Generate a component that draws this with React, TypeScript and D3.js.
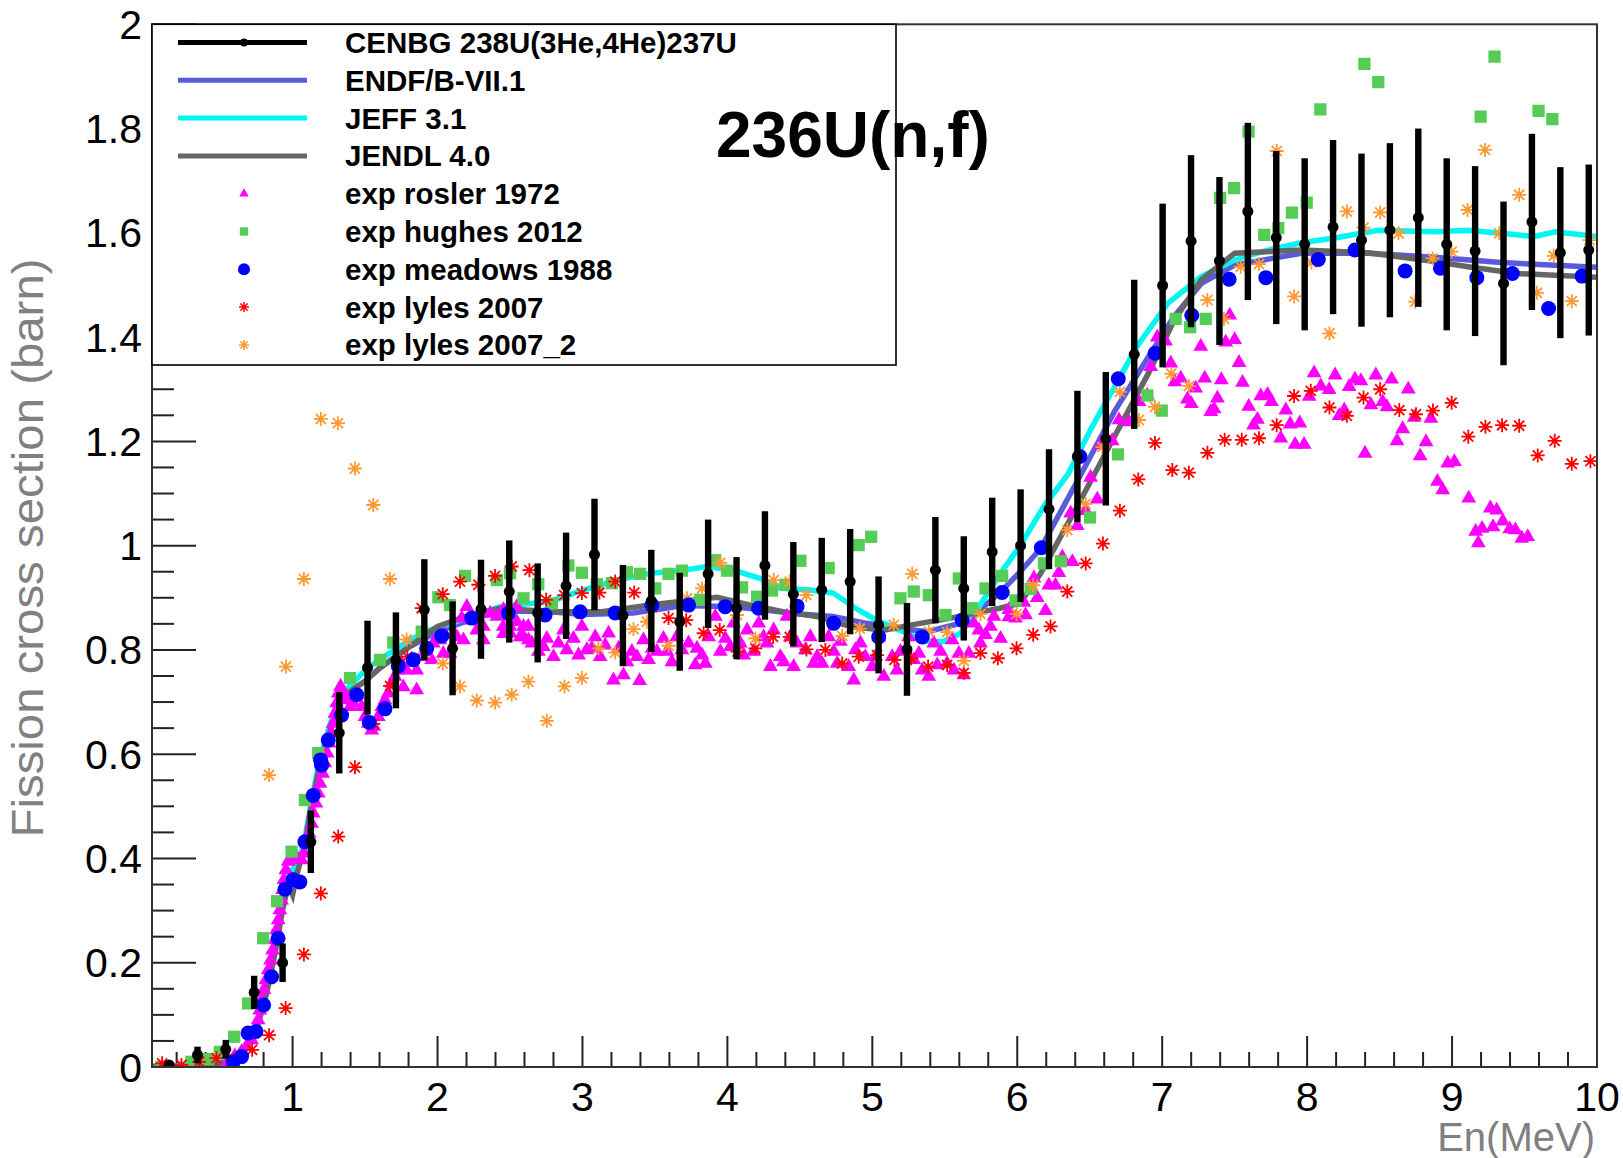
import React from 'react';
import * as d3 from 'd3';

// tick labels
const xTickValues = [1, 2, 3, 4, 5, 6, 7, 8, 9, 10];
const yTickValues = [0, 0.2, 0.4, 0.6, 0.8, 1, 1.2, 1.4, 1.6, 1.8, 2];
const yTickLabels = ['0', '0.2', '0.4', '0.6', '0.8', '1', '1.2', '1.4', '1.6', '1.8', '2'];

// CENBG 238U(3He,4He)237U surrogate data
const cenbgE = [0.148, 0.344, 0.539, 0.735, 0.931, 1.126, 1.322, 1.517, 1.713, 1.909, 2.104, 2.3, 2.495, 2.691, 2.887, 3.083, 3.279, 3.475, 3.671, 3.867, 4.063, 4.259, 4.455, 4.651, 4.847, 5.043, 5.239, 5.435, 5.631, 5.827, 6.023, 6.219, 6.415, 6.611, 6.807, 7.003, 7.199, 7.395, 7.591, 7.787, 7.983, 8.179, 8.375, 8.571, 8.767, 8.963, 9.159, 9.355, 9.551, 9.747, 9.943];
const cenbgSigma = [0.004, 0.023, 0.034, 0.143, 0.2, 0.432, 0.641, 0.766, 0.78, 0.877, 0.803, 0.878, 0.912, 0.871, 0.923, 0.983, 0.866, 0.894, 0.854, 0.946, 0.88, 0.962, 0.907, 0.915, 0.931, 0.848, 0.801, 0.953, 0.918, 0.988, 1.0, 1.07, 1.171, 1.205, 1.367, 1.499, 1.584, 1.546, 1.641, 1.591, 1.578, 1.611, 1.586, 1.605, 1.629, 1.578, 1.565, 1.503, 1.621, 1.562, 1.567];
const cenbgErr = [0.005, 0.016, 0.018, 0.032, 0.037, 0.06, 0.078, 0.09, 0.092, 0.097, 0.09, 0.095, 0.098, 0.095, 0.102, 0.107, 0.097, 0.098, 0.094, 0.104, 0.098, 0.104, 0.1, 0.1, 0.101, 0.093, 0.089, 0.102, 0.1, 0.104, 0.108, 0.115, 0.126, 0.128, 0.143, 0.157, 0.165, 0.161, 0.17, 0.166, 0.165, 0.167, 0.166, 0.167, 0.171, 0.165, 0.163, 0.157, 0.169, 0.164, 0.164];

// evaluations [E, sigma]
const endf = [[0.03, 0.001], [0.3, 0.002], [0.45, 0.005], [0.55, 0.012], [0.62, 0.025], [0.7, 0.05], [0.76, 0.085], [0.82, 0.15], [0.88, 0.23], [0.93, 0.31], [0.97, 0.36], [1.0, 0.37], [1.04, 0.39], [1.08, 0.42], [1.13, 0.5], [1.18, 0.57], [1.24, 0.63], [1.3, 0.68], [1.35, 0.71], [1.42, 0.725], [1.5, 0.74], [1.6, 0.765], [1.8, 0.805], [2.0, 0.835], [2.2, 0.855], [2.43, 0.875], [2.78, 0.873], [3.0, 0.868], [3.35, 0.871], [3.7, 0.885], [4.04, 0.883], [4.5, 0.869], [4.73, 0.864], [4.96, 0.851], [5.19, 0.841], [5.38, 0.835], [5.65, 0.854], [5.88, 0.91], [6.02, 0.95], [6.16, 0.994], [6.44, 1.137], [6.67, 1.257], [6.9, 1.36], [7.08, 1.439], [7.27, 1.503], [7.5, 1.538], [7.96, 1.561], [8.42, 1.561], [8.88, 1.553], [9.34, 1.543], [10, 1.534]];
const jeff = [[0.03, 0.001], [0.3, 0.002], [0.45, 0.005], [0.55, 0.012], [0.62, 0.025], [0.7, 0.05], [0.76, 0.088], [0.82, 0.155], [0.88, 0.235], [0.93, 0.315], [0.97, 0.365], [1.0, 0.38], [1.04, 0.395], [1.08, 0.43], [1.13, 0.51], [1.18, 0.58], [1.24, 0.64], [1.3, 0.695], [1.4, 0.733], [1.53, 0.768], [1.6, 0.781], [1.81, 0.819], [1.95, 0.838], [2.09, 0.851], [2.25, 0.865], [2.43, 0.883], [2.78, 0.893], [3.01, 0.915], [3.24, 0.934], [3.47, 0.947], [3.7, 0.953], [3.86, 0.96], [4.04, 0.953], [4.23, 0.937], [4.37, 0.918], [4.57, 0.915], [4.73, 0.909], [4.9, 0.877], [5.03, 0.857], [5.19, 0.838], [5.36, 0.816], [5.49, 0.816], [5.61, 0.832], [5.75, 0.889], [5.88, 0.945], [6.02, 1.0], [6.18, 1.074], [6.35, 1.137], [6.51, 1.225], [6.67, 1.304], [6.83, 1.384], [7.04, 1.465], [7.27, 1.516], [7.5, 1.548], [7.73, 1.567], [7.96, 1.581], [8.19, 1.59], [8.49, 1.605], [8.88, 1.602], [9.11, 1.605], [9.34, 1.599], [9.57, 1.593], [9.71, 1.602], [10, 1.593]];
const jendl = [[0.03, 0.001], [0.3, 0.002], [0.45, 0.004], [0.55, 0.01], [0.62, 0.022], [0.7, 0.046], [0.76, 0.08], [0.82, 0.14], [0.88, 0.22], [0.93, 0.3], [0.97, 0.35], [1.0, 0.33], [1.03, 0.37], [1.08, 0.42], [1.13, 0.5], [1.18, 0.57], [1.24, 0.63], [1.3, 0.68], [1.35, 0.71], [1.42, 0.725], [1.5, 0.74], [1.6, 0.765], [1.8, 0.805], [2.0, 0.845], [2.2, 0.865], [2.43, 0.88], [2.78, 0.873], [3.12, 0.873], [3.47, 0.886], [3.7, 0.894], [3.93, 0.901], [4.16, 0.886], [4.39, 0.873], [4.62, 0.864], [4.85, 0.845], [5.08, 0.838], [5.31, 0.85], [5.54, 0.861], [5.7, 0.87], [5.88, 0.88], [6.02, 0.89], [6.16, 0.946], [6.44, 1.089], [6.67, 1.209], [6.9, 1.328], [7.08, 1.431], [7.27, 1.51], [7.5, 1.561], [7.96, 1.567], [8.42, 1.562], [8.88, 1.545], [9.11, 1.535], [9.45, 1.522], [10, 1.515]];

// experimental sets [E, sigma]
const rosler = [[0.555, 0.01], [0.601, 0.021], [0.648, 0.029], [0.682, 0.039], [0.717, 0.052], [0.747, 0.071], [0.762, 0.09], [0.774, 0.109], [0.786, 0.129], [0.802, 0.148], [0.816, 0.167], [0.832, 0.186], [0.848, 0.205], [0.862, 0.224], [0.878, 0.244], [0.889, 0.263], [0.901, 0.282], [0.912, 0.301], [0.924, 0.32], [0.931, 0.34], [0.94, 0.359], [0.954, 0.378], [0.97, 0.394], [0.993, 0.4], [1.028, 0.403], [1.062, 0.397], [1.078, 0.41], [1.097, 0.429], [1.115, 0.448], [1.131, 0.467], [1.142, 0.487], [1.161, 0.506], [1.177, 0.525], [1.189, 0.544], [1.207, 0.563], [1.223, 0.583], [1.239, 0.602], [1.253, 0.621], [1.269, 0.64], [1.28, 0.659], [1.292, 0.678], [1.304, 0.698], [1.315, 0.717], [1.331, 0.73], [1.35, 0.72], [1.373, 0.704], [1.396, 0.691], [1.419, 0.698], [1.442, 0.714], [1.477, 0.691], [1.5, 0.672], [1.522, 0.659], [1.546, 0.646], [1.561, 0.653], [1.591, 0.672], [1.615, 0.691], [1.637, 0.704], [1.66, 0.717], [1.684, 0.736], [1.706, 0.749], [1.729, 0.761], [1.753, 0.774], [1.764, 0.729], [1.787, 0.761], [1.822, 0.781], [1.856, 0.761], [1.856, 0.723], [1.891, 0.787], [1.925, 0.806], [1.959, 0.781], [1.971, 0.813], [2.017, 0.819], [2.04, 0.793], [2.052, 0.829], [2.086, 0.793], [2.133, 0.825], [2.167, 0.861], [2.179, 0.819], [2.202, 0.883], [2.236, 0.857], [2.271, 0.838], [2.316, 0.845], [2.316, 0.819], [2.363, 0.87], [2.409, 0.864], [2.455, 0.877], [2.455, 0.831], [2.5, 0.845], [2.547, 0.883], [2.57, 0.825], [2.593, 0.845], [2.627, 0.819],
  [2.454, 0.845], [2.547, 0.854], [2.593, 0.825], [2.651, 0.813], [2.696, 0.797], [2.754, 0.822], [2.8, 0.787], [2.834, 0.813], [2.892, 0.8], [2.938, 0.822], [2.996, 0.845], [3.03, 0.8], [3.088, 0.825], [3.122, 0.787], [3.18, 0.832], [3.214, 0.742], [3.249, 0.803], [3.283, 0.752], [3.341, 0.797], [3.394, 0.741], [3.421, 0.819], [3.456, 0.781], [3.514, 0.797], [3.559, 0.822], [3.617, 0.777], [3.686, 0.8], [3.732, 0.813], [3.778, 0.771], [3.825, 0.79], [3.87, 0.825], [3.917, 0.864], [3.951, 0.797], [3.986, 0.822], [4.043, 0.851], [4.089, 0.813], [4.136, 0.838], [4.181, 0.797], [4.216, 0.851], [4.273, 0.813], [4.319, 0.838], [4.365, 0.787], [4.388, 0.777], [4.411, 0.864], [4.457, 0.768], [4.48, 0.813], [4.538, 0.8], [4.572, 0.825], [4.619, 0.787], [4.654, 0.774], [4.699, 0.825], [4.734, 0.797], [4.78, 0.816], [4.837, 0.768], [4.872, 0.742], [4.918, 0.813], [4.952, 0.787], [4.999, 0.768], [5.044, 0.825], [5.079, 0.749], [5.137, 0.787], [5.194, 0.797], [5.251, 0.825], [5.286, 0.781], [5.344, 0.761], [5.389, 0.749], [5.424, 0.813], [5.471, 0.797], [5.516, 0.774], [5.551, 0.819], [5.597, 0.793], [5.631, 0.752], [5.666, 0.793], [5.7, 0.851], [5.735, 0.838], [5.781, 0.829], [5.839, 0.864], [5.885, 0.822], [5.942, 0.877], [5.988, 0.861],
  [2.501, 0.832], [2.626, 0.845], [2.731, 0.806], [2.869, 0.838], [2.973, 0.79], [3.065, 0.803], [3.157, 0.809], [3.307, 0.777], [3.376, 0.787], [3.48, 0.803], [3.583, 0.797], [3.651, 0.825], [3.79, 0.803], [3.848, 0.774], [4.02, 0.806], [4.112, 0.79], [4.25, 0.825], [4.297, 0.768], [4.434, 0.825], [4.595, 0.774], [4.757, 0.774], [4.883, 0.8], [5.021, 0.787], [5.17, 0.761], [5.321, 0.793], [5.448, 0.771], [5.563, 0.761], [5.746, 0.813], [5.815, 0.845],
  [5.942, 0.863], [6.046, 0.891], [6.057, 0.867], [6.115, 0.938], [6.138, 0.9], [6.195, 0.875], [6.218, 0.924], [6.264, 0.924], [6.287, 0.948], [6.311, 0.978], [6.38, 0.969], [6.368, 1.062], [6.414, 1.038], [6.471, 1.067], [6.506, 1.131], [6.552, 1.089], [6.575, 1.193], [6.655, 1.201], [6.702, 1.241], [6.771, 1.237], [6.84, 1.276], [6.897, 1.288], [6.921, 1.343], [6.966, 1.4], [7.023, 1.392], [7.059, 1.35], [7.087, 1.314], [7.128, 1.321], [7.174, 1.281], [7.201, 1.272], [7.231, 1.302], [7.266, 1.382], [7.293, 1.321], [7.335, 1.257], [7.358, 1.262], [7.381, 1.283], [7.408, 1.318], [7.438, 1.39], [7.466, 1.442], [7.5, 1.395], [7.53, 1.351], [7.554, 1.313], [7.597, 1.267], [7.63, 1.231], [7.657, 1.242], [7.68, 1.287], [7.727, 1.29], [7.754, 1.276], [7.818, 1.206], [7.853, 1.26], [7.883, 1.233], [7.917, 1.194], [7.949, 1.235], [7.979, 1.194], [8.014, 1.286], [8.048, 1.331], [8.094, 1.306], [8.152, 1.299], [8.193, 1.327], [8.221, 1.249], [8.256, 1.26], [8.29, 1.305], [8.33, 1.319], [8.371, 1.316], [8.399, 1.177], [8.44, 1.27], [8.474, 1.327], [8.521, 1.276], [8.551, 1.266], [8.583, 1.319], [8.62, 1.201], [8.659, 1.224], [8.698, 1.3], [8.739, 1.246], [8.78, 1.172], [8.82, 1.199], [8.854, 1.244], [8.899, 1.123], [8.935, 1.107], [8.97, 1.158], [9.016, 1.161], [9.115, 1.091], [9.163, 1.027], [9.181, 1.005], [9.207, 1.033], [9.264, 1.072], [9.283, 1.036], [9.308, 1.068], [9.35, 1.047], [9.398, 1.032], [9.437, 1.03], [9.481, 1.014], [9.522, 1.017]];
const hughes = [[0.095, 0.0], [0.302, 0.01], [0.417, 0.015], [0.498, 0.029], [0.597, 0.058], [0.693, 0.122], [0.797, 0.247], [0.893, 0.318], [0.993, 0.413], [1.085, 0.512], [1.177, 0.602], [1.396, 0.746], [1.603, 0.781], [1.695, 0.814], [1.891, 0.835], [2.006, 0.901], [2.086, 0.886], [2.19, 0.942], [2.409, 0.934], [2.5, 0.947], [2.593, 0.899], [2.695, 0.926], [2.789, 0.889], [2.903, 0.962], [2.996, 0.948], [3.099, 0.926], [3.203, 0.928], [3.307, 0.949], [3.398, 0.946], [3.502, 0.918], [3.594, 0.946], [3.686, 0.952], [3.813, 0.896], [3.917, 0.972], [3.997, 0.952], [4.101, 0.92], [4.205, 0.902], [4.308, 0.914], [4.4, 0.925], [4.504, 0.971], [4.699, 0.957], [4.906, 1.001], [4.992, 1.017], [5.194, 0.899], [5.286, 0.912], [5.39, 0.905], [5.505, 0.867], [5.597, 0.937], [5.689, 0.88], [5.781, 0.918], [5.896, 0.942], [5.988, 0.895], [6.092, 0.917], [6.184, 0.966], [6.3, 0.97], [6.502, 1.054], [6.695, 1.175], [6.898, 1.288], [6.997, 1.259], [7.093, 1.435], [7.193, 1.419], [7.3, 1.435], [7.4, 1.667], [7.496, 1.686], [7.596, 1.794], [7.704, 1.596], [7.801, 1.609], [7.895, 1.639], [7.997, 1.658], [8.091, 1.837], [8.395, 1.924], [8.491, 1.889], [9.197, 1.823], [9.293, 1.938], [9.597, 1.834], [9.692, 1.818]];
const meadows = [[0.59, 0.01], [0.648, 0.02], [0.693, 0.065], [0.747, 0.068], [0.8, 0.119], [0.855, 0.173], [0.9, 0.247], [0.947, 0.341], [1.004, 0.359], [1.05, 0.355], [1.085, 0.432], [1.142, 0.521], [1.193, 0.589], [1.2, 0.579], [1.246, 0.627], [1.338, 0.675], [1.442, 0.714], [1.529, 0.661], [1.637, 0.687], [1.729, 0.769], [1.833, 0.781], [1.925, 0.803], [2.029, 0.827], [2.236, 0.861], [2.489, 0.87], [2.742, 0.867], [2.984, 0.873], [3.226, 0.871], [3.479, 0.886], [3.732, 0.886], [3.985, 0.883], [4.215, 0.88], [4.481, 0.884], [4.733, 0.851], [5.044, 0.825], [5.344, 0.825], [5.62, 0.857], [5.896, 0.91], [6.166, 0.996], [6.432, 1.171], [6.697, 1.32], [6.951, 1.369], [7.204, 1.442], [7.462, 1.511], [7.715, 1.514], [8.077, 1.549], [8.33, 1.567], [8.676, 1.527], [8.92, 1.532], [9.171, 1.514], [9.416, 1.522], [9.666, 1.455], [9.897, 1.517]];
const lyles = [[0.1, 0.007], [0.233, 0.004], [0.355, 0.01], [0.475, 0.017], [0.597, 0.015], [0.721, 0.033], [0.838, 0.061], [0.952, 0.113], [1.078, 0.216], [1.195, 0.333], [1.315, 0.442], [1.43, 0.575], [1.557, 0.658], [1.672, 0.731], [1.792, 0.787], [1.891, 0.88], [2.036, 0.907], [2.155, 0.931], [2.282, 0.925], [2.397, 0.942], [2.512, 0.96], [2.634, 0.953], [2.749, 0.896], [2.874, 0.905], [2.996, 0.909], [3.117, 0.91], [3.226, 0.931], [3.357, 0.91], [3.48, 0.882], [3.594, 0.861], [3.716, 0.857], [3.836, 0.832], [3.947, 0.838], [4.07, 0.797], [4.193, 0.803], [4.315, 0.825], [4.43, 0.825], [4.545, 0.801], [4.676, 0.8], [4.792, 0.774], [4.906, 0.787], [5.033, 0.79], [5.153, 0.781], [5.268, 0.784], [5.385, 0.768], [5.516, 0.771], [5.631, 0.756], [5.746, 0.794], [5.866, 0.784], [5.995, 0.803], [6.11, 0.829], [6.23, 0.845], [6.345, 0.912], [6.472, 0.966], [6.591, 1.004], [6.708, 1.067], [6.835, 1.127], [6.95, 1.197], [7.07, 1.145], [7.184, 1.14], [7.312, 1.178], [7.431, 1.203], [7.549, 1.203], [7.668, 1.206], [7.79, 1.231], [7.91, 1.287], [8.025, 1.297], [8.154, 1.265], [8.274, 1.249], [8.389, 1.284], [8.504, 1.3], [8.636, 1.26], [8.751, 1.252], [8.868, 1.259], [8.997, 1.274], [9.112, 1.209], [9.23, 1.228], [9.345, 1.231], [9.463, 1.23], [9.591, 1.173], [9.708, 1.201], [9.826, 1.157], [9.955, 1.162]];
const lyles2 = [[0.838, 0.56], [0.954, 0.768], [1.078, 0.936], [1.195, 1.243], [1.313, 1.235], [1.43, 1.148], [1.557, 1.078], [1.672, 0.936], [1.787, 0.82], [1.914, 0.795], [2.036, 0.774], [2.155, 0.73], [2.271, 0.703], [2.397, 0.699], [2.512, 0.714], [2.627, 0.739], [2.754, 0.664], [2.876, 0.73], [2.996, 0.746], [3.11, 0.803], [3.226, 0.795], [3.352, 0.84], [3.445, 0.854], [3.594, 0.808], [3.721, 0.899], [3.825, 0.918], [3.951, 0.967], [4.066, 0.867], [4.193, 0.822], [4.319, 0.934], [4.43, 0.931], [4.545, 0.905], [4.792, 0.827], [4.913, 0.841], [5.148, 0.848], [5.275, 0.946], [5.39, 0.835], [5.516, 0.834], [5.631, 0.779], [5.746, 0.869], [5.872, 0.91], [5.995, 0.869], [6.11, 0.924], [6.345, 1.03], [6.472, 1.08], [6.587, 1.189], [6.708, 1.295], [6.839, 1.241], [6.95, 1.266], [7.063, 1.33], [7.184, 1.306], [7.311, 1.471], [7.426, 1.435], [7.542, 1.535], [7.668, 1.54], [7.79, 1.757], [7.91, 1.478], [8.03, 1.543], [8.154, 1.407], [8.274, 1.641], [8.389, 1.61], [8.504, 1.639], [8.631, 1.599], [8.746, 1.468], [8.866, 1.551], [8.997, 1.564], [9.107, 1.644], [9.227, 1.759], [9.326, 1.599], [9.463, 1.673], [9.585, 1.485], [9.701, 1.556], [9.826, 1.469], [9.948, 1.586]];

const legendLabels = ['CENBG 238U(3He,4He)237U', 'ENDF/B-VII.1', 'JEFF 3.1', 'JENDL 4.0', 'exp rosler 1972', 'exp hughes 2012', 'exp meadows 1988', 'exp lyles 2007', 'exp lyles 2007_2'];

const FONT = 'Liberation Sans, Arial, Helvetica, sans-serif';
const C = { endf: '#5a5adc', jeff: '#00f5f5', jendl: '#666666', rosler: '#ff00ff', hughes: '#55cc55', meadows: '#0000ff', lyles: '#ff0000', lyles2: '#ff9933' };

const star = (r: number) => {
  const d = r * 0.72;
  return `M${-r},0H${r}M0,${-r}V${r}M${-d},${-d}L${d},${d}M${-d},${d}L${d},${-d}`;
};

export default function App() {
  const W = 1623, H = 1158;
  const left = 152, right = 1597, top = 24.3, bottom = 1067;
  const x = d3.scaleLinear().domain([0.03, 10]).range([left, right]);
  const y = d3.scaleLinear().domain([0, 2]).range([bottom, top]);
  const line = d3.line<number[]>().x(d => x(d[0])).y(d => y(d[1]));

  const triPath = d3.symbol().type(d3.symbolTriangle).size(95)() as string;
  const sqPath = d3.symbol().type(d3.symbolSquare).size(150)() as string;
  const triSmall = d3.symbol().type(d3.symbolTriangle).size(40)() as string;
  const sqSmall = d3.symbol().type(d3.symbolSquare).size(70)() as string;

  const xMinor = d3.range(1, 50).map(i => i * 0.2).filter(v => Math.abs(v - Math.round(v)) > 1e-6);
  const yMinor = d3.range(1, 40).map(i => i * 0.05).filter(v => Math.abs(v / 0.2 - Math.round(v / 0.2)) > 1e-6);

  const rowY = (i: number) => 42.5 + 37.8 * i;
  const legX0 = 178, legX1 = 307, legMx = 244;

  return (
    <svg width={W} height={H} style={{ position: 'absolute', left: 0, top: 0, background: '#fff' }} fontFamily={FONT}>
      <defs>
        <clipPath id="plot"><rect x={left} y={top} width={right - left} height={bottom - top} /></clipPath>
      </defs>
      <rect x={0} y={0} width={W} height={H} fill="#fff" />

      {/* ticks */}
      <g stroke="#222" strokeWidth={2}>
        {xTickValues.map(v => <line key={'xM' + v} x1={x(v)} x2={x(v)} y1={bottom} y2={bottom - 31} />)}
        {xMinor.map(v => <line key={'xm' + v} x1={x(v)} x2={x(v)} y1={bottom} y2={bottom - 15} />)}
        {yTickValues.map(v => <line key={'yM' + v} x1={left} x2={left + 44} y1={y(v)} y2={y(v)} />)}
        {yMinor.map(v => <line key={'ym' + v} x1={left} x2={left + 22} y1={y(v)} y2={y(v)} />)}
      </g>

      <g clipPath="url(#plot)">
        {/* evaluations */}
        <path d={line(endf) as string} fill="none" stroke={C.endf} strokeWidth={5.5} />
        <path d={line(jeff) as string} fill="none" stroke={C.jeff} strokeWidth={5.5} />
        <path d={line(jendl) as string} fill="none" stroke={C.jendl} strokeWidth={5.5} />

        {/* experiments */}
        {rosler.map((d, i) => <path key={'r' + i} d={triPath} transform={`translate(${x(d[0])},${y(d[1])})`} fill={C.rosler} />)}
        {hughes.map((d, i) => <path key={'h' + i} d={sqPath} transform={`translate(${x(d[0])},${y(d[1])})`} fill={C.hughes} />)}
        {lyles.map((d, i) => (
          <g key={'l' + i} transform={`translate(${x(d[0])},${y(d[1])})`}>
            <path d={star(7)} stroke={C.lyles} strokeWidth={1.8} fill="none" />
            <circle r={2.4} fill={C.lyles} />
          </g>
        ))}
        {lyles2.map((d, i) => (
          <g key={'o' + i} transform={`translate(${x(d[0])},${y(d[1])})`}>
            <path d={star(7)} stroke={C.lyles2} strokeWidth={1.8} fill="none" />
            <circle r={2.4} fill={C.lyles2} />
          </g>
        ))}
        {meadows.map((d, i) => <circle key={'m' + i} cx={x(d[0])} cy={y(d[1])} r={7.5} fill={C.meadows} />)}

        {/* CENBG */}
        {cenbgE.map((e, i) => (
          <g key={'c' + i}>
            <rect x={x(e) - 3.2} width={6.4} y={y(cenbgSigma[i] + cenbgErr[i])} height={y(cenbgSigma[i] - cenbgErr[i]) - y(cenbgSigma[i] + cenbgErr[i])} fill="#000" />
            <circle cx={x(e)} cy={y(cenbgSigma[i])} r={5.5} fill="#000" />
          </g>
        ))}
      </g>

      {/* frame */}
      <rect x={left} y={top} width={right - left} height={bottom - top} fill="none" stroke="#333" strokeWidth={2} />

      {/* tick labels */}
      {yTickValues.map((v, i) => (
        <text key={'yl' + v} x={142} y={y(v) + 14.5} textAnchor="end" fontSize={41} fill="#000">{yTickLabels[i]}</text>
      ))}
      {xTickValues.map(v => (
        <text key={'xl' + v} x={x(v)} y={1111} textAnchor="middle" fontSize={41} fill="#000">{v}</text>
      ))}

      {/* axis titles */}
      <text x={1595} y={1151} textAnchor="end" fontSize={40} fill="#808080">En(MeV)</text>
      <text transform="translate(43,548) rotate(-90)" textAnchor="middle" fontSize={45} fill="#808080" textLength={579} lengthAdjust="spacingAndGlyphs">Fission cross section (barn)</text>

      {/* legend */}
      <rect x={left} y={top} width={896 - left} height={365 - top} fill="#fff" stroke="#000" strokeWidth={1.6} />
      <line x1={legX0} x2={legX1} y1={rowY(0)} y2={rowY(0)} stroke="#000" strokeWidth={5} />
      <circle cx={legMx} cy={rowY(0)} r={4} fill="#000" />
      <line x1={legX0} x2={legX1} y1={rowY(1)} y2={rowY(1)} stroke={C.endf} strokeWidth={5} />
      <line x1={legX0} x2={legX1} y1={rowY(2)} y2={rowY(2)} stroke={C.jeff} strokeWidth={5} />
      <line x1={legX0} x2={legX1} y1={rowY(3)} y2={rowY(3)} stroke={C.jendl} strokeWidth={5} />
      <path d={triSmall} transform={`translate(${legMx},${rowY(4)})`} fill={C.rosler} />
      <path d={sqSmall} transform={`translate(${legMx},${rowY(5)})`} fill={C.hughes} />
      <circle cx={legMx} cy={rowY(6)} r={6} fill={C.meadows} />
      <g transform={`translate(${legMx},${rowY(7)})`}>
        <path d={star(5)} stroke={C.lyles} strokeWidth={1.5} fill="none" />
      </g>
      <g transform={`translate(${legMx},${rowY(8)})`}>
        <path d={star(5)} stroke={C.lyles2} strokeWidth={1.5} fill="none" />
      </g>
      {legendLabels.map((t, i) => (
        <text key={'lg' + i} x={345} y={rowY(i) + 10.5} fontSize={29.5} fontWeight="bold" fill="#000">{t}</text>
      ))}

      {/* title */}
      <text x={716} y={157} fontSize={64} fontWeight="bold" fill="#000">236U(n,f)</text>
    </svg>
  );
}
